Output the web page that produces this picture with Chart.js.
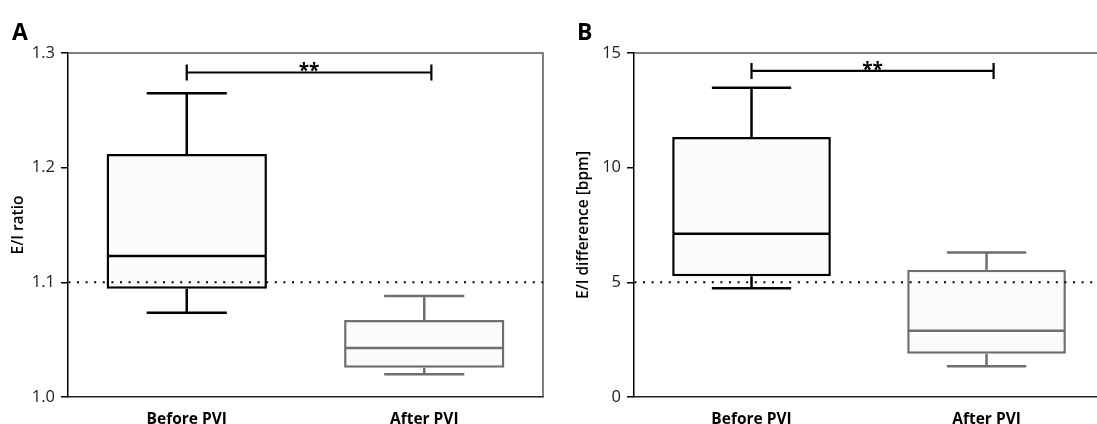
<!DOCTYPE html>
<html>
<head>
<meta charset="utf-8">
<script src="https://cdn.jsdelivr.net/npm/chart.js@4/dist/chart.umd.min.js"></script>
<style>
  html, body { margin: 0; padding: 0; background: #fff; overflow: hidden; }
  body { width: 1097px; height: 424px; position: relative; }
  canvas { position: absolute; top: 0; }
  #cA { left: 0; }
  #cB { left: 548px; }
</style>
</head>
<body>
<canvas id="cA" width="548" height="424"></canvas>
<canvas id="cB" width="549" height="424"></canvas>
<script>
// ---- Data ----
const categories = ['Before PVI', 'After PVI'];

// Panel A: E/I ratio
const ratioMin    = [1.0735, 1.0198];
const ratioQ1     = [1.0945, 1.0256];
const ratioMedian = [1.123,  1.0427];
const ratioQ3     = [1.212,  1.0671];
const ratioMax    = [1.265,  1.0881];
const ratioTicks  = [1.0, 1.1, 1.2, 1.3];
const ratioTickLabels = ['1.0', '1.1', '1.2', '1.3'];
const ratioReference = 1.1;
const ratioSignificance = 1.283;

// Panel B: E/I difference [bpm]
const diffMin    = [4.74, 1.34];
const diffQ1     = [5.26, 1.89];
const diffMedian = [7.12, 2.89];
const diffQ3     = [11.34, 5.55];
const diffMax    = [13.49, 6.30];
const diffTicks  = [0, 5, 10, 15];
const diffTickLabels = ['0', '5', '10', '15'];
const diffReference = 5;
const diffSignificance = 14.22;

const bracketFrom = 0;
const bracketTo = 1.03;
const significanceLabel = '**';

const boxColors = ['#000000', '#6e6e6e'];
const FONT = "'Open Sans', 'Noto Sans', 'DejaVu Sans', sans-serif";

function extrasPlugin(d) {
  return {
    id: 'boxExtras',
    afterDatasetsDraw(chart) {
      const { ctx, chartArea: ca, scales: { x, y } } = chart;
      const meta = chart.getDatasetMeta(0);
      ctx.save();
      // frame (top, optional right)
      ctx.strokeStyle = '#555';
      ctx.lineWidth = 1.5;
      ctx.beginPath();
      ctx.moveTo(ca.left, ca.top);
      ctx.lineTo(ca.right, ca.top);
      if (d.rightBorder) ctx.lineTo(ca.right, ca.bottom);
      ctx.stroke();

      // whiskers, caps, medians
      d.min.forEach((_, i) => {
        const el = meta.data[i];
        const cx = x.getPixelForValue(i);
        const hw = el.width / 2;
        const yMin = y.getPixelForValue(d.min[i]);
        const yMax = y.getPixelForValue(d.max[i]);
        const yQ1 = y.getPixelForValue(d.q1[i]);
        const yQ3 = y.getPixelForValue(d.q3[i]);
        const yMed = y.getPixelForValue(d.median[i]);
        ctx.strokeStyle = boxColors[i];
        ctx.lineWidth = 2.5;
        ctx.lineCap = 'butt';
        ctx.beginPath();
        ctx.moveTo(cx, yQ3); ctx.lineTo(cx, yMax);
        ctx.moveTo(cx, yQ1); ctx.lineTo(cx, yMin);
        ctx.moveTo(cx - hw / 2, yMax); ctx.lineTo(cx + hw / 2, yMax);
        ctx.moveTo(cx - hw / 2, yMin); ctx.lineTo(cx + hw / 2, yMin);
        ctx.moveTo(cx - hw + 1.25, yMed); ctx.lineTo(cx + hw - 1.25, yMed);
        ctx.stroke();
      });

      // dotted reference line
      const yRef = y.getPixelForValue(d.reference);
      ctx.strokeStyle = '#000';
      ctx.lineWidth = 2;
      ctx.setLineDash([2, 6.6]);
      ctx.lineDashOffset = -9;
      ctx.beginPath();
      ctx.moveTo(ca.left, yRef);
      ctx.lineTo(ca.right, yRef);
      ctx.stroke();
      ctx.setLineDash([]);

      // significance bracket
      const yS = y.getPixelForValue(d.significance);
      const x1 = x.getPixelForValue(bracketFrom);
      const x2 = x.getPixelForValue(bracketTo);
      ctx.strokeStyle = '#000';
      ctx.lineWidth = 2.2;
      ctx.beginPath();
      ctx.moveTo(x1, yS); ctx.lineTo(x2, yS);
      ctx.moveTo(x1, yS - 8); ctx.lineTo(x1, yS + 8);
      ctx.moveTo(x2, yS - 8); ctx.lineTo(x2, yS + 8);
      ctx.stroke();
      ctx.fillStyle = '#000';
      ctx.font = 'bold 19px ' + FONT;
      ctx.textAlign = 'center';
      ctx.textBaseline = 'alphabetic';
      ctx.fillText(significanceLabel, (x1 + x2) / 2, yS + 5);

      // panel letter
      ctx.font = 'bold 23px ' + FONT;
      ctx.textAlign = 'left';
      ctx.fillText(d.letter, d.letterX, 40);
      ctx.restore();
    }
  };
}

function makeChart(canvasId, d) {
  const data = categories.map((c, i) => ({ x: i, y: [d.q1[i], d.q3[i]] }));
  return new Chart(document.getElementById(canvasId), {
    type: 'bar',
    data: {
      datasets: [{
        data: data,
        backgroundColor: '#fbfbfb',
        borderColor: boxColors,
        borderWidth: 2.5,
        borderSkipped: false,
        categoryPercentage: 1,
        barPercentage: 0.675
      }]
    },
    options: {
      responsive: false,
      devicePixelRatio: 1,
      animation: false,
      layout: { padding: { top: 53, right: d.padRight, left: 0, bottom: 0 } },
      plugins: { legend: { display: false }, tooltip: { enabled: false }, title: { display: false } },
      scales: {
        x: {
          type: 'linear',
          offset: false,
          min: -0.5,
          max: d.xMax,
          afterBuildTicks: (s) => { s.ticks = categories.map((c, i) => ({ value: i })); },
          afterFit: (s) => { s.height = 27; },
          grid: { display: false },
          border: { display: true, color: '#222', width: 1.5 },
          ticks: {
            callback: (v) => categories[v],
            font: { family: FONT, size: 15.5, weight: 'bold' },
            color: '#000',
            padding: 5,
            maxRotation: 0,
            autoSkip: false
          }
        },
        y: {
          type: 'linear',
          min: d.ticks[0],
          max: d.ticks[d.ticks.length - 1],
          afterBuildTicks: (s) => { s.ticks = d.ticks.map(v => ({ value: v })); },
          afterFit: (s) => { s.width = d.axisWidth; },
          grid: { display: true, drawOnChartArea: false, drawTicks: true, tickLength: 7, color: '#000', lineWidth: 1.5 },
          border: { display: true, color: '#000', width: 1.5 },
          ticks: {
            callback: (v) => d.tickLabels[d.ticks.indexOf(v)],
            font: { family: FONT, size: 16.5 },
            color: '#222',
            padding: 6
          },
          title: {
            display: true,
            text: d.title,
            font: { family: FONT, size: 15.5, weight: '600' },
            color: '#000',
            padding: { top: d.titlePad, bottom: 0 }
          }
        }
      }
    },
    plugins: [extrasPlugin(d)]
  });
}

makeChart('cA', {
  min: ratioMin, q1: ratioQ1, median: ratioMedian, q3: ratioQ3, max: ratioMax,
  ticks: ratioTicks, tickLabels: ratioTickLabels,
  reference: ratioReference, significance: ratioSignificance,
  title: 'E/I ratio', titlePad: 9, axisWidth: 68, padRight: 5, xMax: 1.5,
  rightBorder: true, letter: 'A', letterX: 12
});

makeChart('cB', {
  min: diffMin, q1: diffQ1, median: diffMedian, q3: diffQ3, max: diffMax,
  ticks: diffTicks, tickLabels: diffTickLabels,
  reference: diffReference, significance: diffSignificance,
  title: 'E/I difference [bpm]', titlePad: 26, axisWidth: 86, padRight: 0, xMax: 1.47,
  rightBorder: false, letter: 'B', letterX: 29
});
</script>
</body>
</html>
